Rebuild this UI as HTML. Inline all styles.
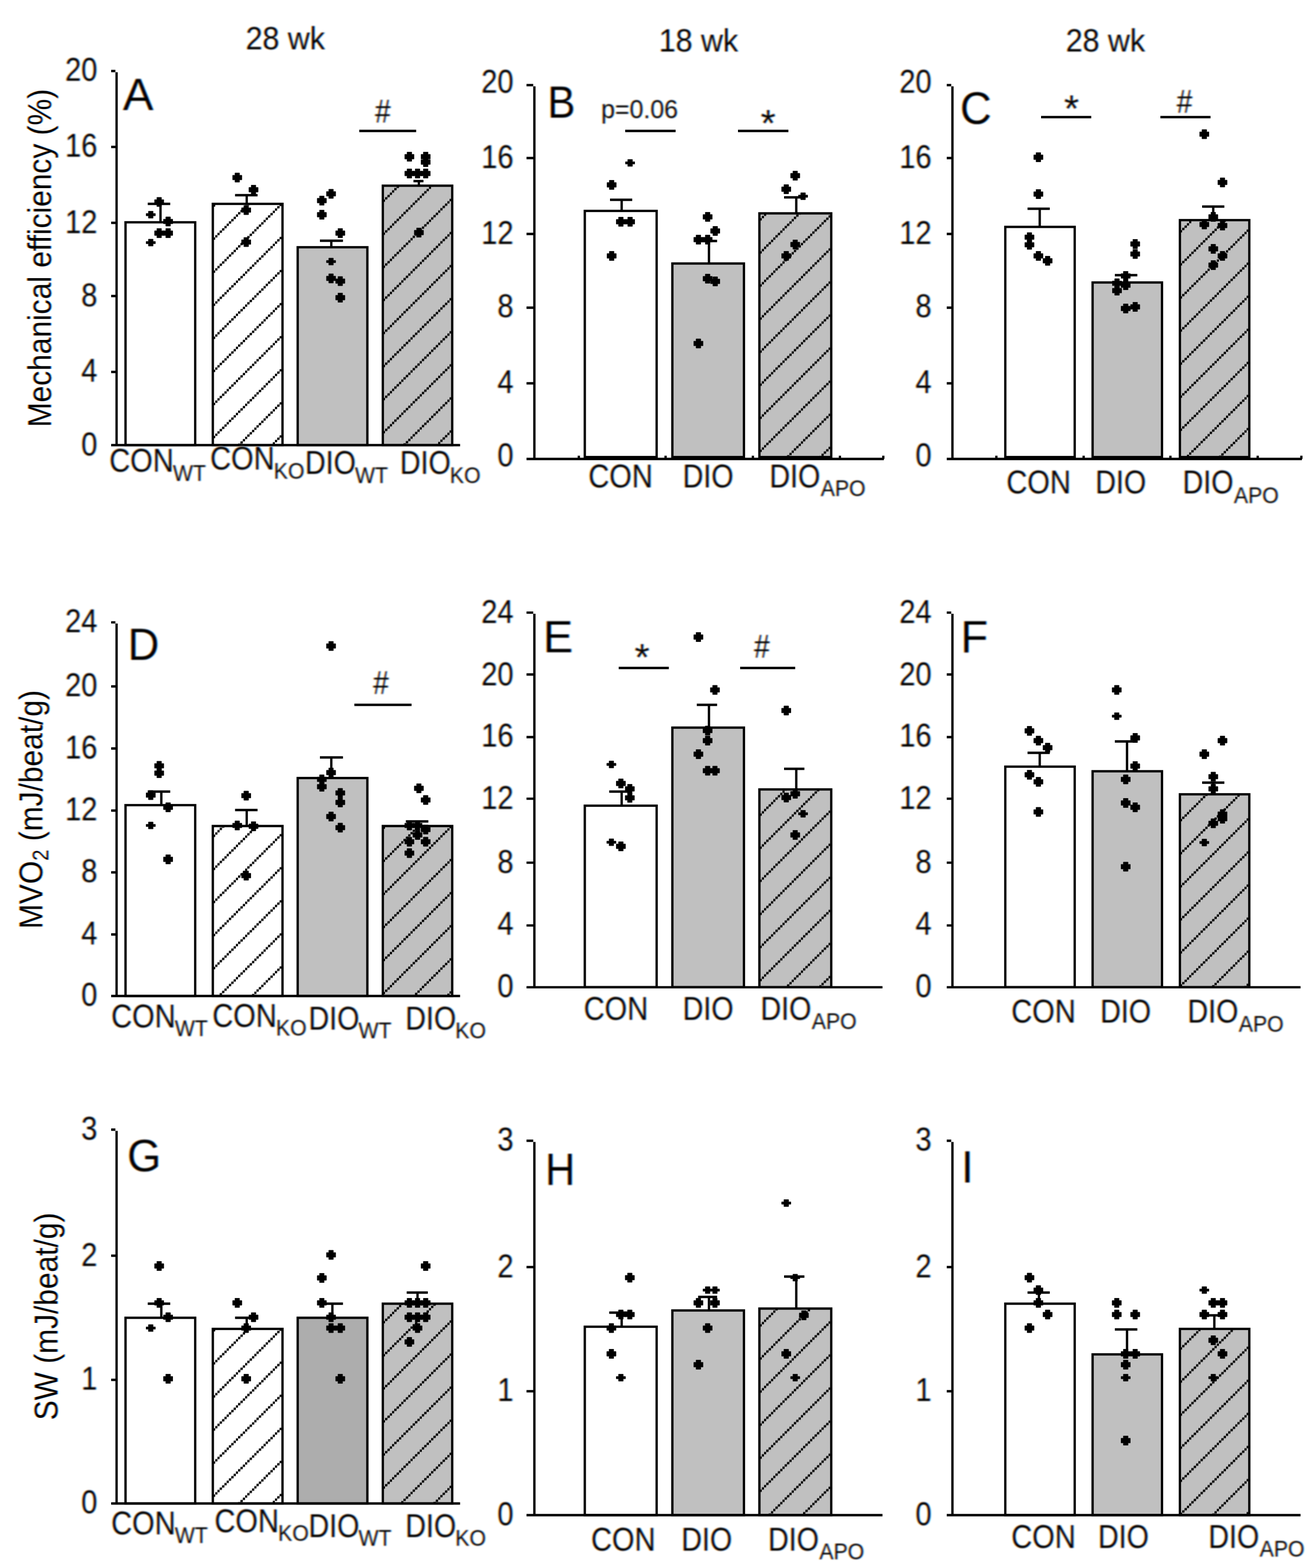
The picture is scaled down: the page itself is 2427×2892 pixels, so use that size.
<!DOCTYPE html>
<html lang="en">
<head>
<meta charset="utf-8">
<title>Mechanical efficiency, MVO2 and SW</title>
<style>
html,body{margin:0;padding:0;background:#fff;}
body{width:2427px;height:2892px;}
svg{display:block;}
.t text{font-family:"Liberation Sans",Arial,Helvetica,sans-serif;fill:#000;}
</style>
</head>
<body>
<svg width="2427" height="2892" viewBox="0 0 2427 2892">
<defs>
<filter id="lcd" x="-0.25" y="-0.25" width="1.5" height="1.5" color-interpolation-filters="sRGB">
<feGaussianBlur in="SourceAlpha" stdDeviation="1.5 0.90" result="a"/>
<feOffset in="a" dx="1.2" result="ar"/>
<feOffset in="a" dx="-1.2" result="ab"/>
<feFlood flood-color="#00ffff"/><feComposite operator="in" in2="ar" result="lr"/>
<feFlood flood-color="#ff00ff"/><feComposite operator="in" in2="a" result="lg"/>
<feFlood flood-color="#ffff00"/><feComposite operator="in" in2="ab" result="lb"/>
<feBlend mode="multiply" in="lr" in2="lg" result="rg"/>
<feBlend mode="multiply" in="rg" in2="lb"/>
</filter>
<filter id="lcdr" x="-0.25" y="-0.03" width="1.5" height="1.06" color-interpolation-filters="sRGB">
<feGaussianBlur in="SourceAlpha" stdDeviation="1.20 0.75" result="a"/>
<feOffset in="a" dx="1.2" result="ar"/>
<feOffset in="a" dx="-1.2" result="ab"/>
<feFlood flood-color="#00ffff"/><feComposite operator="in" in2="ar" result="lr"/>
<feFlood flood-color="#ff00ff"/><feComposite operator="in" in2="a" result="lg"/>
<feFlood flood-color="#ffff00"/><feComposite operator="in" in2="ab" result="lb"/>
<feBlend mode="multiply" in="lr" in2="lg" result="rg"/>
<feBlend mode="multiply" in="rg" in2="lb"/>
</filter>
</defs>
<rect width="2427" height="2892" fill="#fff"/>
<g id="plots">
<g id="panelA">
<g stroke="#000" stroke-width="4.3" fill="none">
<rect x="231.5" y="410" width="128.5" height="411" fill="#ffffff" stroke="none"/>
<rect x="231.5" y="410" width="128.5" height="411"/>
<rect x="392.5" y="376" width="128.5" height="445" fill="#ffffff" stroke="none"/>
<g stroke="none">
<pattern id="h1" patternUnits="userSpaceOnUse" width="4.243" height="61" patternTransform="translate(392.5 437.9) skewY(-45)"><path d="M0 0L4.243 4.243V8.486L0 4.243Z" fill="#000"/></pattern>
<rect x="392.5" y="376" width="128.5" height="445" fill="url(#h1)"/>
</g>
<rect x="392.5" y="376" width="128.5" height="445"/>
<rect x="549" y="456" width="128.5" height="365" fill="#c0c0c0" stroke="none"/>
<rect x="549" y="456" width="128.5" height="365"/>
<rect x="706" y="342.5" width="128" height="478.5" fill="#c0c0c0" stroke="none"/>
<g stroke="none">
<pattern id="h2" patternUnits="userSpaceOnUse" width="4.243" height="61" patternTransform="translate(706 428.9) skewY(-45)"><path d="M0 0L4.243 4.243V8.486L0 4.243Z" fill="#000"/></pattern>
<rect x="706" y="342.5" width="128" height="478.5" fill="url(#h2)"/>
</g>
<rect x="706" y="342.5" width="128" height="478.5"/>
<path d="M296 410V376M272.5 376H314M455 376V360M433.5 360H475M611 456V444M590 444H632.5M772.5 342.5V334M762.5 334H781M215 133.2V821M205 821H848.5M205 131H212.8M205 271H215M205 411H215M205 546H215M205 686H215M205 821H215M662.5 241.5H767.5"/>
</g>
<path d="M289.3 364h8.486v4.243h4.243v8.486h-4.243v4.243h-8.486v-4.243h-4.243v-8.486h4.243zM273.8 389.6h8.486v4.243h4.243v4.243h-4.243v4.243h-8.486v-4.243h-4.243v-4.243h4.243zM305.8 400h8.486v4.243h4.243v8.486h-4.243v4.243h-8.486v-4.243h-4.243v-8.486h4.243zM289.3 421.5h8.486v4.243h4.243v8.486h-4.243v4.243h-8.486v-4.243h-4.243v-8.486h4.243zM305.8 421.5h8.486v4.243h4.243v8.486h-4.243v4.243h-8.486v-4.243h-4.243v-8.486h4.243zM273.8 441.1h8.486v4.243h4.243v4.243h-4.243v4.243h-8.486v-4.243h-4.243v-4.243h4.243zM433.3 319h8.486v4.243h4.243v8.486h-4.243v4.243h-8.486v-4.243h-4.243v-8.486h4.243zM463.3 341.5h8.486v4.243h4.243v8.486h-4.243v4.243h-8.486v-4.243h-4.243v-8.486h4.243zM449.8 379h8.486v4.243h4.243v8.486h-4.243v4.243h-8.486v-4.243h-4.243v-8.486h4.243zM449.8 438h8.486v4.243h4.243v8.486h-4.243v4.243h-8.486v-4.243h-4.243v-8.486h4.243zM606.3 349h8.486v4.243h4.243v8.486h-4.243v4.243h-8.486v-4.243h-4.243v-8.486h4.243zM589.3 361.5h8.486v4.243h4.243v8.486h-4.243v4.243h-8.486v-4.243h-4.243v-8.486h4.243zM589.3 387.5h8.486v4.243h4.243v8.486h-4.243v4.243h-8.486v-4.243h-4.243v-8.486h4.243zM623.3 421.5h8.486v4.243h4.243v8.486h-4.243v4.243h-8.486v-4.243h-4.243v-8.486h4.243zM606.3 476.1h8.486v4.243h4.243v4.243h-4.243v4.243h-8.486v-4.243h-4.243v-4.243h4.243zM606.3 505h8.486v4.243h4.243v8.486h-4.243v4.243h-8.486v-4.243h-4.243v-8.486h4.243zM623.3 510h8.486v4.243h4.243v8.486h-4.243v4.243h-8.486v-4.243h-4.243v-8.486h4.243zM623.3 540.5h8.486v4.243h4.243v8.486h-4.243v4.243h-8.486v-4.243h-4.243v-8.486h4.243zM750.8 280.5h8.486v4.243h4.243v8.486h-4.243v4.243h-8.486v-4.243h-4.243v-8.486h4.243zM780.8 280.5h8.486v4.243h4.243v8.486h-4.243v4.243h-8.486v-4.243h-4.243v-8.486h4.243zM780.8 290.5h8.486v4.243h4.243v8.486h-4.243v4.243h-8.486v-4.243h-4.243v-8.486h4.243zM750.8 311.5h8.486v4.243h4.243v8.486h-4.243v4.243h-8.486v-4.243h-4.243v-8.486h4.243zM765.8 311.5h8.486v4.243h4.243v8.486h-4.243v4.243h-8.486v-4.243h-4.243v-8.486h4.243zM780.8 311.5h8.486v4.243h4.243v8.486h-4.243v4.243h-8.486v-4.243h-4.243v-8.486h4.243zM768.3 420.5h8.486v4.243h4.243v8.486h-4.243v4.243h-8.486v-4.243h-4.243v-8.486h4.243z" fill="#000" stroke="#000" stroke-width="0.8" stroke-linejoin="round"/>
</g>
<g id="panelB">
<g stroke="#000" stroke-width="4.3" fill="none">
<rect x="1078.5" y="389" width="132.5" height="454" fill="#ffffff" stroke="none"/>
<rect x="1078.5" y="389" width="132.5" height="454"/>
<rect x="1240" y="486" width="132" height="357" fill="#c0c0c0" stroke="none"/>
<rect x="1240" y="486" width="132" height="357"/>
<rect x="1400.5" y="393.5" width="132.5" height="449.5" fill="#c0c0c0" stroke="none"/>
<g stroke="none">
<pattern id="h3" patternUnits="userSpaceOnUse" width="4.243" height="61" patternTransform="translate(1400.5 463.4) skewY(-45)"><path d="M0 0L4.243 4.243V8.486L0 4.243Z" fill="#000"/></pattern>
<rect x="1400.5" y="393.5" width="132.5" height="449.5" fill="url(#h3)"/>
</g>
<rect x="1400.5" y="393.5" width="132.5" height="449.5"/>
<path d="M1146.5 389V368.5M1125 368.5H1166M1307.5 486V444.5M1287.5 444.5H1322.5M1468.5 393.5V364M1446 364H1485M985.5 159.2V846.5M971 846.5H1630M971 157H983.4M971 291.5H985.5M971 431.5H985.5M971 567.5H985.5M971 707H985.5M971 846.5H985.5M1067.5 846.5V840.5M1227.5 846.5V840.5M1388.5 846.5V840.5M1549 846.5V840.5M1629 846.5V840.5M1153 241.5H1246M1361 241.5H1454"/>
</g>
<path d="M1157.8 294.1h8.486v4.243h4.243v4.243h-4.243v4.243h-8.486v-4.243h-4.243v-4.243h4.243zM1123.8 332.5h8.486v4.243h4.243v8.486h-4.243v4.243h-8.486v-4.243h-4.243v-8.486h4.243zM1140.8 400.5h8.486v4.243h4.243v8.486h-4.243v4.243h-8.486v-4.243h-4.243v-8.486h4.243zM1157.8 400.5h8.486v4.243h4.243v8.486h-4.243v4.243h-8.486v-4.243h-4.243v-8.486h4.243zM1123.8 463.5h8.486v4.243h4.243v8.486h-4.243v4.243h-8.486v-4.243h-4.243v-8.486h4.243zM1300.8 391.5h8.486v4.243h4.243v8.486h-4.243v4.243h-8.486v-4.243h-4.243v-8.486h4.243zM1314.8 417.5h8.486v4.243h4.243v8.486h-4.243v4.243h-8.486v-4.243h-4.243v-8.486h4.243zM1283.8 433.5h8.486v4.243h4.243v8.486h-4.243v4.243h-8.486v-4.243h-4.243v-8.486h4.243zM1300.8 433.5h8.486v4.243h4.243v8.486h-4.243v4.243h-8.486v-4.243h-4.243v-8.486h4.243zM1300.8 505.5h8.486v4.243h4.243v8.486h-4.243v4.243h-8.486v-4.243h-4.243v-8.486h4.243zM1314.8 510.5h8.486v4.243h4.243v8.486h-4.243v4.243h-8.486v-4.243h-4.243v-8.486h4.243zM1283.8 625h8.486v4.243h4.243v8.486h-4.243v4.243h-8.486v-4.243h-4.243v-8.486h4.243zM1462.3 315.5h8.486v4.243h4.243v8.486h-4.243v4.243h-8.486v-4.243h-4.243v-8.486h4.243zM1445.8 340.5h8.486v4.243h4.243v8.486h-4.243v4.243h-8.486v-4.243h-4.243v-8.486h4.243zM1476.8 355.6h8.486v4.243h4.243v4.243h-4.243v4.243h-8.486v-4.243h-4.243v-4.243h4.243zM1462.3 442.5h8.486v4.243h4.243v8.486h-4.243v4.243h-8.486v-4.243h-4.243v-8.486h4.243zM1445.8 463.5h8.486v4.243h4.243v8.486h-4.243v4.243h-8.486v-4.243h-4.243v-8.486h4.243z" fill="#000" stroke="#000" stroke-width="0.8" stroke-linejoin="round"/>
</g>
<g id="panelC">
<g stroke="#000" stroke-width="4.3" fill="none">
<rect x="1854" y="418.5" width="128" height="424.5" fill="#ffffff" stroke="none"/>
<rect x="1854" y="418.5" width="128" height="424.5"/>
<rect x="2015" y="521" width="128" height="322" fill="#c0c0c0" stroke="none"/>
<rect x="2015" y="521" width="128" height="322"/>
<rect x="2176" y="406" width="128" height="437" fill="#c0c0c0" stroke="none"/>
<g stroke="none">
<pattern id="h4" patternUnits="userSpaceOnUse" width="4.243" height="61" patternTransform="translate(2176 485.4) skewY(-45)"><path d="M0 0L4.243 4.243V8.486L0 4.243Z" fill="#000"/></pattern>
<rect x="2176" y="406" width="128" height="437" fill="url(#h4)"/>
</g>
<rect x="2176" y="406" width="128" height="437"/>
<path d="M1917.5 418.5V385M1895 385H1936M2077 521V507.5M2056 507.5H2097.5M2237.5 406V381M2217 381H2258M1756.5 159.2V846.5M1746 846.5H2401M1746 157H1754.3M1746 291.5H1756.5M1746 431.5H1756.5M1746 567.5H1756.5M1746 707H1756.5M1746 846.5H1756.5M1837.5 846.5V840.5M1998.5 846.5V840.5M2158.5 846.5V840.5M2319.5 846.5V840.5M2400 846.5V840.5M1920 216H2012.5M2140 216H2232.5"/>
</g>
<path d="M1910.8 281.5h8.486v4.243h4.243v8.486h-4.243v4.243h-8.486v-4.243h-4.243v-8.486h4.243zM1910.8 349.5h8.486v4.243h4.243v8.486h-4.243v4.243h-8.486v-4.243h-4.243v-8.486h4.243zM1894.3 429h8.486v4.243h4.243v8.486h-4.243v4.243h-8.486v-4.243h-4.243v-8.486h4.243zM1894.3 443h8.486v4.243h4.243v8.486h-4.243v4.243h-8.486v-4.243h-4.243v-8.486h4.243zM1910.8 463.5h8.486v4.243h4.243v8.486h-4.243v4.243h-8.486v-4.243h-4.243v-8.486h4.243zM1927.8 472.5h8.486v4.243h4.243v8.486h-4.243v4.243h-8.486v-4.243h-4.243v-8.486h4.243zM2089.3 441.5h8.486v4.243h4.243v8.486h-4.243v4.243h-8.486v-4.243h-4.243v-8.486h4.243zM2089.3 460h8.486v4.243h4.243v8.486h-4.243v4.243h-8.486v-4.243h-4.243v-8.486h4.243zM2071.8 500.5h8.486v4.243h4.243v8.486h-4.243v4.243h-8.486v-4.243h-4.243v-8.486h4.243zM2055.8 514h8.486v4.243h4.243v8.486h-4.243v4.243h-8.486v-4.243h-4.243v-8.486h4.243zM2071.8 517.5h8.486v4.243h4.243v8.486h-4.243v4.243h-8.486v-4.243h-4.243v-8.486h4.243zM2055.8 527.5h8.486v4.243h4.243v8.486h-4.243v4.243h-8.486v-4.243h-4.243v-8.486h4.243zM2071.8 560.5h8.486v4.243h4.243v8.486h-4.243v4.243h-8.486v-4.243h-4.243v-8.486h4.243zM2089.3 557.5h8.486v4.243h4.243v8.486h-4.243v4.243h-8.486v-4.243h-4.243v-8.486h4.243zM2216.8 239h8.486v4.243h4.243v8.486h-4.243v4.243h-8.486v-4.243h-4.243v-8.486h4.243zM2250.3 328h8.486v4.243h4.243v8.486h-4.243v4.243h-8.486v-4.243h-4.243v-8.486h4.243zM2233.3 391.5h8.486v4.243h4.243v8.486h-4.243v4.243h-8.486v-4.243h-4.243v-8.486h4.243zM2216.8 405.5h8.486v4.243h4.243v8.486h-4.243v4.243h-8.486v-4.243h-4.243v-8.486h4.243zM2250.3 407.5h8.486v4.243h4.243v8.486h-4.243v4.243h-8.486v-4.243h-4.243v-8.486h4.243zM2233.3 450.5h8.486v4.243h4.243v8.486h-4.243v4.243h-8.486v-4.243h-4.243v-8.486h4.243zM2250.3 463.5h8.486v4.243h4.243v8.486h-4.243v4.243h-8.486v-4.243h-4.243v-8.486h4.243zM2233.3 480.5h8.486v4.243h4.243v8.486h-4.243v4.243h-8.486v-4.243h-4.243v-8.486h4.243z" fill="#000" stroke="#000" stroke-width="0.8" stroke-linejoin="round"/>
</g>
<g id="panelD">
<g stroke="#000" stroke-width="4.3" fill="none">
<rect x="231.5" y="1485" width="128.5" height="352" fill="#ffffff" stroke="none"/>
<rect x="231.5" y="1485" width="128.5" height="352"/>
<rect x="392.5" y="1523.5" width="128.5" height="313.5" fill="#ffffff" stroke="none"/>
<g stroke="none">
<pattern id="h5" patternUnits="userSpaceOnUse" width="4.243" height="61" patternTransform="translate(392.5 1600.4) skewY(-45)"><path d="M0 0L4.243 4.243V8.486L0 4.243Z" fill="#000"/></pattern>
<rect x="392.5" y="1523.5" width="128.5" height="313.5" fill="url(#h5)"/>
</g>
<rect x="392.5" y="1523.5" width="128.5" height="313.5"/>
<rect x="549" y="1435" width="128.5" height="402" fill="#c0c0c0" stroke="none"/>
<rect x="549" y="1435" width="128.5" height="402"/>
<rect x="706" y="1523.5" width="128" height="313.5" fill="#c0c0c0" stroke="none"/>
<g stroke="none">
<pattern id="h6" patternUnits="userSpaceOnUse" width="4.243" height="61" patternTransform="translate(706 1585.4) skewY(-45)"><path d="M0 0L4.243 4.243V8.486L0 4.243Z" fill="#000"/></pattern>
<rect x="706" y="1523.5" width="128" height="313.5" fill="url(#h6)"/>
</g>
<rect x="706" y="1523.5" width="128" height="313.5"/>
<path d="M297.5 1485V1460M272.5 1460H314M455 1523.5V1494M433.5 1494H475M611 1435V1397M590 1397H632.5M770 1523.5V1515M748.5 1515H790M215 1149.9V1837M205 1837H848.5M205 1147.8H212.8M205 1266H215M205 1380.5H215M205 1495H215M205 1609H215M205 1723.5H215M205 1837H215M653.5 1300H759"/>
</g>
<path d="M289.3 1404h8.486v4.243h4.243v8.486h-4.243v4.243h-8.486v-4.243h-4.243v-8.486h4.243zM289.3 1417.5h8.486v4.243h4.243v8.486h-4.243v4.243h-8.486v-4.243h-4.243v-8.486h4.243zM273.8 1458h8.486v4.243h4.243v8.486h-4.243v4.243h-8.486v-4.243h-4.243v-8.486h4.243zM305.8 1480.5h8.486v4.243h4.243v8.486h-4.243v4.243h-8.486v-4.243h-4.243v-8.486h4.243zM273.8 1516.1h8.486v4.243h4.243v4.243h-4.243v4.243h-8.486v-4.243h-4.243v-4.243h4.243zM305.8 1576.5h8.486v4.243h4.243v8.486h-4.243v4.243h-8.486v-4.243h-4.243v-8.486h4.243zM449.8 1459h8.486v4.243h4.243v8.486h-4.243v4.243h-8.486v-4.243h-4.243v-8.486h4.243zM433.3 1514h8.486v4.243h4.243v8.486h-4.243v4.243h-8.486v-4.243h-4.243v-8.486h4.243zM463.3 1515.5h8.486v4.243h4.243v8.486h-4.243v4.243h-8.486v-4.243h-4.243v-8.486h4.243zM449.8 1606.5h8.486v4.243h4.243v8.486h-4.243v4.243h-8.486v-4.243h-4.243v-8.486h4.243zM606.3 1183h8.486v4.243h4.243v8.486h-4.243v4.243h-8.486v-4.243h-4.243v-8.486h4.243zM606.3 1416.5h8.486v4.243h4.243v8.486h-4.243v4.243h-8.486v-4.243h-4.243v-8.486h4.243zM589.3 1429h8.486v4.243h4.243v8.486h-4.243v4.243h-8.486v-4.243h-4.243v-8.486h4.243zM589.3 1442.5h8.486v4.243h4.243v8.486h-4.243v4.243h-8.486v-4.243h-4.243v-8.486h4.243zM623.3 1454h8.486v4.243h4.243v8.486h-4.243v4.243h-8.486v-4.243h-4.243v-8.486h4.243zM623.3 1471.5h8.486v4.243h4.243v8.486h-4.243v4.243h-8.486v-4.243h-4.243v-8.486h4.243zM606.3 1497.5h8.486v4.243h4.243v8.486h-4.243v4.243h-8.486v-4.243h-4.243v-8.486h4.243zM623.3 1518h8.486v4.243h4.243v8.486h-4.243v4.243h-8.486v-4.243h-4.243v-8.486h4.243zM768.3 1445.5h8.486v4.243h4.243v8.486h-4.243v4.243h-8.486v-4.243h-4.243v-8.486h4.243zM780.8 1467h8.486v4.243h4.243v8.486h-4.243v4.243h-8.486v-4.243h-4.243v-8.486h4.243zM750.8 1514h8.486v4.243h4.243v8.486h-4.243v4.243h-8.486v-4.243h-4.243v-8.486h4.243zM765.8 1514h8.486v4.243h4.243v8.486h-4.243v4.243h-8.486v-4.243h-4.243v-8.486h4.243zM780.8 1521.5h8.486v4.243h4.243v8.486h-4.243v4.243h-8.486v-4.243h-4.243v-8.486h4.243zM765.8 1531.5h8.486v4.243h4.243v8.486h-4.243v4.243h-8.486v-4.243h-4.243v-8.486h4.243zM750.8 1544h8.486v4.243h4.243v8.486h-4.243v4.243h-8.486v-4.243h-4.243v-8.486h4.243zM780.8 1544h8.486v4.243h4.243v8.486h-4.243v4.243h-8.486v-4.243h-4.243v-8.486h4.243zM750.8 1565h8.486v4.243h4.243v8.486h-4.243v4.243h-8.486v-4.243h-4.243v-8.486h4.243z" fill="#000" stroke="#000" stroke-width="0.8" stroke-linejoin="round"/>
</g>
<g id="panelE">
<g stroke="#000" stroke-width="4.3" fill="none">
<rect x="1078.5" y="1486" width="132.5" height="334.8" fill="#ffffff" stroke="none"/>
<rect x="1078.5" y="1486" width="132.5" height="334.8"/>
<rect x="1240" y="1342" width="132" height="478.8" fill="#c0c0c0" stroke="none"/>
<rect x="1240" y="1342" width="132" height="478.8"/>
<rect x="1400.5" y="1456" width="132.5" height="364.8" fill="#c0c0c0" stroke="none"/>
<g stroke="none">
<pattern id="h7" patternUnits="userSpaceOnUse" width="4.243" height="61" patternTransform="translate(1400.5 1500.4) skewY(-45)"><path d="M0 0L4.243 4.243V8.486L0 4.243Z" fill="#000"/></pattern>
<rect x="1400.5" y="1456" width="132.5" height="364.8" fill="url(#h7)"/>
</g>
<rect x="1400.5" y="1456" width="132.5" height="364.8"/>
<path d="M1146.5 1486V1460M1123.5 1460H1165M1307.5 1342V1300M1285 1300H1322.5M1468.5 1456V1418M1446 1418H1483.5M985.5 1131.9V1820.8M971 1820.8H1627.5M971 1129.8H983.4M971 1244H985.5M971 1359.5H985.5M971 1473.2H985.5M971 1591.2H985.5M971 1706.8H985.5M971 1820.8H985.5M1141 1232H1233.5M1365 1232H1466.5"/>
</g>
<path d="M1123.3 1403.6h8.486v4.243h4.243v4.243h-4.243v4.243h-8.486v-4.243h-4.243v-4.243h4.243zM1140.8 1436.5h8.486v4.243h4.243v8.486h-4.243v4.243h-8.486v-4.243h-4.243v-8.486h4.243zM1157.3 1446.5h8.486v4.243h4.243v8.486h-4.243v4.243h-8.486v-4.243h-4.243v-8.486h4.243zM1157.3 1463h8.486v4.243h4.243v8.486h-4.243v4.243h-8.486v-4.243h-4.243v-8.486h4.243zM1123.3 1547.1h8.486v4.243h4.243v4.243h-4.243v4.243h-8.486v-4.243h-4.243v-4.243h4.243zM1140.8 1552.5h8.486v4.243h4.243v8.486h-4.243v4.243h-8.486v-4.243h-4.243v-8.486h4.243zM1283.8 1166.5h8.486v4.243h4.243v8.486h-4.243v4.243h-8.486v-4.243h-4.243v-8.486h4.243zM1314.3 1264h8.486v4.243h4.243v8.486h-4.243v4.243h-8.486v-4.243h-4.243v-8.486h4.243zM1300.8 1339h8.486v4.243h4.243v8.486h-4.243v4.243h-8.486v-4.243h-4.243v-8.486h4.243zM1300.8 1357.5h8.486v4.243h4.243v8.486h-4.243v4.243h-8.486v-4.243h-4.243v-8.486h4.243zM1283.8 1382.5h8.486v4.243h4.243v8.486h-4.243v4.243h-8.486v-4.243h-4.243v-8.486h4.243zM1300.8 1413h8.486v4.243h4.243v8.486h-4.243v4.243h-8.486v-4.243h-4.243v-8.486h4.243zM1314.3 1413h8.486v4.243h4.243v8.486h-4.243v4.243h-8.486v-4.243h-4.243v-8.486h4.243zM1445.8 1302h8.486v4.243h4.243v8.486h-4.243v4.243h-8.486v-4.243h-4.243v-8.486h4.243zM1462.3 1455.5h8.486v4.243h4.243v8.486h-4.243v4.243h-8.486v-4.243h-4.243v-8.486h4.243zM1445.8 1462.5h8.486v4.243h4.243v8.486h-4.243v4.243h-8.486v-4.243h-4.243v-8.486h4.243zM1476.8 1494.6h8.486v4.243h4.243v4.243h-4.243v4.243h-8.486v-4.243h-4.243v-4.243h4.243zM1462.3 1531.5h8.486v4.243h4.243v8.486h-4.243v4.243h-8.486v-4.243h-4.243v-8.486h4.243z" fill="#000" stroke="#000" stroke-width="0.8" stroke-linejoin="round"/>
</g>
<g id="panelF">
<g stroke="#000" stroke-width="4.3" fill="none">
<rect x="1854" y="1414" width="128" height="406.8" fill="#ffffff" stroke="none"/>
<rect x="1854" y="1414" width="128" height="406.8"/>
<rect x="2015" y="1422.5" width="128" height="398.2" fill="#c0c0c0" stroke="none"/>
<rect x="2015" y="1422.5" width="128" height="398.2"/>
<rect x="2176" y="1465" width="128" height="355.8" fill="#c0c0c0" stroke="none"/>
<g stroke="none">
<pattern id="h8" patternUnits="userSpaceOnUse" width="4.243" height="61" patternTransform="translate(2176 1510.4) skewY(-45)"><path d="M0 0L4.243 4.243V8.486L0 4.243Z" fill="#000"/></pattern>
<rect x="2176" y="1465" width="128" height="355.8" fill="url(#h8)"/>
</g>
<rect x="2176" y="1465" width="128" height="355.8"/>
<path d="M1917.5 1414V1388.5M1895 1388.5H1936M2078.5 1422.5V1367.5M2056 1367.5H2097.5M2237.5 1465V1443.5M2217 1443.5H2258M1756.5 1131.9V1820.8M1746 1820.8H2398.5M1746 1129.8H1754.3M1746 1244H1756.5M1746 1359.5H1756.5M1746 1473.2H1756.5M1746 1591.2H1756.5M1746 1706.8H1756.5M1746 1820.8H1756.5"/>
</g>
<path d="M1894.3 1339.5h8.486v4.243h4.243v8.486h-4.243v4.243h-8.486v-4.243h-4.243v-8.486h4.243zM1910.8 1357.5h8.486v4.243h4.243v8.486h-4.243v4.243h-8.486v-4.243h-4.243v-8.486h4.243zM1927.8 1370.5h8.486v4.243h4.243v8.486h-4.243v4.243h-8.486v-4.243h-4.243v-8.486h4.243zM1894.3 1420.5h8.486v4.243h4.243v8.486h-4.243v4.243h-8.486v-4.243h-4.243v-8.486h4.243zM1910.8 1433.5h8.486v4.243h4.243v8.486h-4.243v4.243h-8.486v-4.243h-4.243v-8.486h4.243zM1910.8 1489h8.486v4.243h4.243v8.486h-4.243v4.243h-8.486v-4.243h-4.243v-8.486h4.243zM2055.3 1264h8.486v4.243h4.243v8.486h-4.243v4.243h-8.486v-4.243h-4.243v-8.486h4.243zM2055.3 1314.6h8.486v4.243h4.243v4.243h-4.243v4.243h-8.486v-4.243h-4.243v-4.243h4.243zM2089.3 1352.5h8.486v4.243h4.243v8.486h-4.243v4.243h-8.486v-4.243h-4.243v-8.486h4.243zM2089.3 1404.5h8.486v4.243h4.243v8.486h-4.243v4.243h-8.486v-4.243h-4.243v-8.486h4.243zM2071.8 1429h8.486v4.243h4.243v8.486h-4.243v4.243h-8.486v-4.243h-4.243v-8.486h4.243zM2071.8 1472.5h8.486v4.243h4.243v8.486h-4.243v4.243h-8.486v-4.243h-4.243v-8.486h4.243zM2089.3 1480.5h8.486v4.243h4.243v8.486h-4.243v4.243h-8.486v-4.243h-4.243v-8.486h4.243zM2071.8 1590h8.486v4.243h4.243v8.486h-4.243v4.243h-8.486v-4.243h-4.243v-8.486h4.243zM2250.3 1357.5h8.486v4.243h4.243v8.486h-4.243v4.243h-8.486v-4.243h-4.243v-8.486h4.243zM2216.8 1382.5h8.486v4.243h4.243v8.486h-4.243v4.243h-8.486v-4.243h-4.243v-8.486h4.243zM2233.3 1424h8.486v4.243h4.243v8.486h-4.243v4.243h-8.486v-4.243h-4.243v-8.486h4.243zM2233.3 1446.5h8.486v4.243h4.243v8.486h-4.243v4.243h-8.486v-4.243h-4.243v-8.486h4.243zM2250.3 1493h8.486v4.243h4.243v8.486h-4.243v4.243h-8.486v-4.243h-4.243v-8.486h4.243zM2250.3 1501.5h8.486v4.243h4.243v8.486h-4.243v4.243h-8.486v-4.243h-4.243v-8.486h4.243zM2233.3 1510h8.486v4.243h4.243v8.486h-4.243v4.243h-8.486v-4.243h-4.243v-8.486h4.243zM2216.8 1547.6h8.486v4.243h4.243v4.243h-4.243v4.243h-8.486v-4.243h-4.243v-4.243h4.243z" fill="#000" stroke="#000" stroke-width="0.8" stroke-linejoin="round"/>
</g>
<g id="panelG">
<g stroke="#000" stroke-width="4.3" fill="none">
<rect x="231.5" y="2430.5" width="128.5" height="342.5" fill="#ffffff" stroke="none"/>
<rect x="231.5" y="2430.5" width="128.5" height="342.5"/>
<rect x="392.5" y="2451" width="128.5" height="322" fill="#ffffff" stroke="none"/>
<g stroke="none">
<pattern id="h9" patternUnits="userSpaceOnUse" width="4.243" height="61" patternTransform="translate(392.5 2512.4) skewY(-45)"><path d="M0 0L4.243 4.243V8.486L0 4.243Z" fill="#000"/></pattern>
<rect x="392.5" y="2451" width="128.5" height="322" fill="url(#h9)"/>
</g>
<rect x="392.5" y="2451" width="128.5" height="322"/>
<rect x="549" y="2430.5" width="128.5" height="342.5" fill="#adadad" stroke="none"/>
<rect x="549" y="2430.5" width="128.5" height="342.5"/>
<rect x="706" y="2404.5" width="128" height="368.5" fill="#c0c0c0" stroke="none"/>
<g stroke="none">
<pattern id="h10" patternUnits="userSpaceOnUse" width="4.243" height="61" patternTransform="translate(706 2497.4) skewY(-45)"><path d="M0 0L4.243 4.243V8.486L0 4.243Z" fill="#000"/></pattern>
<rect x="706" y="2404.5" width="128" height="368.5" fill="url(#h10)"/>
</g>
<rect x="706" y="2404.5" width="128" height="368.5"/>
<path d="M297.5 2430.5V2404.5M272.5 2404.5H314M455 2451V2430.5M433.5 2430.5H475M613 2430.5V2404.5M590 2404.5H632.5M770 2404.5V2384M750 2384H789M215 2085.7V2773M205 2773H848.5M205 2083.5H212.8M205 2316H215M205 2545H215M205 2773H215"/>
</g>
<path d="M289.3 2326.5h8.486v4.243h4.243v8.486h-4.243v4.243h-8.486v-4.243h-4.243v-8.486h4.243zM289.3 2394.5h8.486v4.243h4.243v8.486h-4.243v4.243h-8.486v-4.243h-4.243v-8.486h4.243zM305.8 2421h8.486v4.243h4.243v8.486h-4.243v4.243h-8.486v-4.243h-4.243v-8.486h4.243zM273.8 2443.1h8.486v4.243h4.243v4.243h-4.243v4.243h-8.486v-4.243h-4.243v-4.243h4.243zM305.8 2534.5h8.486v4.243h4.243v8.486h-4.243v4.243h-8.486v-4.243h-4.243v-8.486h4.243zM433.3 2394.5h8.486v4.243h4.243v8.486h-4.243v4.243h-8.486v-4.243h-4.243v-8.486h4.243zM463.3 2421h8.486v4.243h4.243v8.486h-4.243v4.243h-8.486v-4.243h-4.243v-8.486h4.243zM449.8 2441h8.486v4.243h4.243v8.486h-4.243v4.243h-8.486v-4.243h-4.243v-8.486h4.243zM449.8 2534.5h8.486v4.243h4.243v8.486h-4.243v4.243h-8.486v-4.243h-4.243v-8.486h4.243zM606.3 2306h8.486v4.243h4.243v8.486h-4.243v4.243h-8.486v-4.243h-4.243v-8.486h4.243zM589.3 2348.5h8.486v4.243h4.243v8.486h-4.243v4.243h-8.486v-4.243h-4.243v-8.486h4.243zM589.3 2394.5h8.486v4.243h4.243v8.486h-4.243v4.243h-8.486v-4.243h-4.243v-8.486h4.243zM606.3 2421h8.486v4.243h4.243v8.486h-4.243v4.243h-8.486v-4.243h-4.243v-8.486h4.243zM606.3 2441h8.486v4.243h4.243v8.486h-4.243v4.243h-8.486v-4.243h-4.243v-8.486h4.243zM623.3 2441h8.486v4.243h4.243v8.486h-4.243v4.243h-8.486v-4.243h-4.243v-8.486h4.243zM623.3 2534.5h8.486v4.243h4.243v8.486h-4.243v4.243h-8.486v-4.243h-4.243v-8.486h4.243zM780.8 2326.5h8.486v4.243h4.243v8.486h-4.243v4.243h-8.486v-4.243h-4.243v-8.486h4.243zM750.8 2394.5h8.486v4.243h4.243v8.486h-4.243v4.243h-8.486v-4.243h-4.243v-8.486h4.243zM765.8 2394.5h8.486v4.243h4.243v8.486h-4.243v4.243h-8.486v-4.243h-4.243v-8.486h4.243zM780.8 2394.5h8.486v4.243h4.243v8.486h-4.243v4.243h-8.486v-4.243h-4.243v-8.486h4.243zM750.8 2421h8.486v4.243h4.243v8.486h-4.243v4.243h-8.486v-4.243h-4.243v-8.486h4.243zM765.8 2421h8.486v4.243h4.243v8.486h-4.243v4.243h-8.486v-4.243h-4.243v-8.486h4.243zM780.8 2421h8.486v4.243h4.243v8.486h-4.243v4.243h-8.486v-4.243h-4.243v-8.486h4.243zM765.8 2441h8.486v4.243h4.243v8.486h-4.243v4.243h-8.486v-4.243h-4.243v-8.486h4.243zM750.8 2466.5h8.486v4.243h4.243v8.486h-4.243v4.243h-8.486v-4.243h-4.243v-8.486h4.243z" fill="#000" stroke="#000" stroke-width="0.8" stroke-linejoin="round"/>
</g>
<g id="panelH">
<g stroke="#000" stroke-width="4.3" fill="none">
<rect x="1078.5" y="2447" width="132.5" height="347.5" fill="#ffffff" stroke="none"/>
<rect x="1078.5" y="2447" width="132.5" height="347.5"/>
<rect x="1240" y="2417" width="132" height="377.5" fill="#c0c0c0" stroke="none"/>
<rect x="1240" y="2417" width="132" height="377.5"/>
<rect x="1400.5" y="2413.5" width="132.5" height="381" fill="#c0c0c0" stroke="none"/>
<g stroke="none">
<pattern id="h11" patternUnits="userSpaceOnUse" width="4.243" height="61" patternTransform="translate(1400.5 2442.4) skewY(-45)"><path d="M0 0L4.243 4.243V8.486L0 4.243Z" fill="#000"/></pattern>
<rect x="1400.5" y="2413.5" width="132.5" height="381" fill="url(#h11)"/>
</g>
<rect x="1400.5" y="2413.5" width="132.5" height="381"/>
<path d="M1146.5 2447V2421M1123.5 2421H1165M1307.5 2417V2392M1287.5 2392H1322.5M1468.5 2413.5V2354.5M1446 2354.5H1483.5M985.5 2106.2V2794.5M971 2794.5H1627.5M971 2104H983.4M971 2337H985.5M971 2566H985.5M971 2794.5H985.5"/>
</g>
<path d="M1157.3 2348h8.486v4.243h4.243v8.486h-4.243v4.243h-8.486v-4.243h-4.243v-8.486h4.243zM1140.8 2416h8.486v4.243h4.243v8.486h-4.243v4.243h-8.486v-4.243h-4.243v-8.486h4.243zM1157.3 2416h8.486v4.243h4.243v8.486h-4.243v4.243h-8.486v-4.243h-4.243v-8.486h4.243zM1123.3 2441h8.486v4.243h4.243v8.486h-4.243v4.243h-8.486v-4.243h-4.243v-8.486h4.243zM1123.3 2488.5h8.486v4.243h4.243v8.486h-4.243v4.243h-8.486v-4.243h-4.243v-8.486h4.243zM1140.8 2534.6h8.486v4.243h4.243v4.243h-4.243v4.243h-8.486v-4.243h-4.243v-4.243h4.243zM1300.8 2373.1h8.486v4.243h4.243v4.243h-4.243v4.243h-8.486v-4.243h-4.243v-4.243h4.243zM1314.3 2373.1h8.486v4.243h4.243v4.243h-4.243v4.243h-8.486v-4.243h-4.243v-4.243h4.243zM1283.8 2394.5h8.486v4.243h4.243v8.486h-4.243v4.243h-8.486v-4.243h-4.243v-8.486h4.243zM1314.3 2394.5h8.486v4.243h4.243v8.486h-4.243v4.243h-8.486v-4.243h-4.243v-8.486h4.243zM1300.8 2441h8.486v4.243h4.243v8.486h-4.243v4.243h-8.486v-4.243h-4.243v-8.486h4.243zM1283.8 2508.5h8.486v4.243h4.243v8.486h-4.243v4.243h-8.486v-4.243h-4.243v-8.486h4.243zM1445.8 2212.6h8.486v4.243h4.243v4.243h-4.243v4.243h-8.486v-4.243h-4.243v-4.243h4.243zM1462.3 2350.1h8.486v4.243h4.243v4.243h-4.243v4.243h-8.486v-4.243h-4.243v-4.243h4.243zM1478.3 2417.5h8.486v4.243h4.243v8.486h-4.243v4.243h-8.486v-4.243h-4.243v-8.486h4.243zM1445.8 2488.5h8.486v4.243h4.243v8.486h-4.243v4.243h-8.486v-4.243h-4.243v-8.486h4.243zM1462.3 2534.6h8.486v4.243h4.243v4.243h-4.243v4.243h-8.486v-4.243h-4.243v-4.243h4.243z" fill="#000" stroke="#000" stroke-width="0.8" stroke-linejoin="round"/>
</g>
<g id="panelI">
<g stroke="#000" stroke-width="4.3" fill="none">
<rect x="1854" y="2404.5" width="128" height="390" fill="#ffffff" stroke="none"/>
<rect x="1854" y="2404.5" width="128" height="390"/>
<rect x="2015" y="2498" width="128" height="296.5" fill="#c0c0c0" stroke="none"/>
<rect x="2015" y="2498" width="128" height="296.5"/>
<rect x="2176" y="2451" width="128" height="343.5" fill="#c0c0c0" stroke="none"/>
<g stroke="none">
<pattern id="h12" patternUnits="userSpaceOnUse" width="4.243" height="61" patternTransform="translate(2176 2484.9) skewY(-45)"><path d="M0 0L4.243 4.243V8.486L0 4.243Z" fill="#000"/></pattern>
<rect x="2176" y="2451" width="128" height="343.5" fill="url(#h12)"/>
</g>
<rect x="2176" y="2451" width="128" height="343.5"/>
<path d="M1916 2404.5V2384M1895 2384H1936M2078.5 2498V2452M2056 2452H2097.5M2239.5 2451V2426M2218.5 2426H2259.5M1756.5 2106.2V2794.5M1746 2794.5H2398.5M1746 2104H1754.3M1746 2337H1756.5M1746 2566H1756.5M1746 2794.5H1756.5"/>
</g>
<path d="M1894.3 2348h8.486v4.243h4.243v8.486h-4.243v4.243h-8.486v-4.243h-4.243v-8.486h4.243zM1910.8 2371h8.486v4.243h4.243v8.486h-4.243v4.243h-8.486v-4.243h-4.243v-8.486h4.243zM1910.8 2394.5h8.486v4.243h4.243v8.486h-4.243v4.243h-8.486v-4.243h-4.243v-8.486h4.243zM1927.8 2416h8.486v4.243h4.243v8.486h-4.243v4.243h-8.486v-4.243h-4.243v-8.486h4.243zM1894.3 2441h8.486v4.243h4.243v8.486h-4.243v4.243h-8.486v-4.243h-4.243v-8.486h4.243zM2055.3 2394.5h8.486v4.243h4.243v8.486h-4.243v4.243h-8.486v-4.243h-4.243v-8.486h4.243zM2055.3 2416h8.486v4.243h4.243v8.486h-4.243v4.243h-8.486v-4.243h-4.243v-8.486h4.243zM2089.3 2416h8.486v4.243h4.243v8.486h-4.243v4.243h-8.486v-4.243h-4.243v-8.486h4.243zM2071.8 2488.5h8.486v4.243h4.243v8.486h-4.243v4.243h-8.486v-4.243h-4.243v-8.486h4.243zM2089.3 2488.5h8.486v4.243h4.243v8.486h-4.243v4.243h-8.486v-4.243h-4.243v-8.486h4.243zM2071.8 2508.5h8.486v4.243h4.243v8.486h-4.243v4.243h-8.486v-4.243h-4.243v-8.486h4.243zM2071.8 2534.6h8.486v4.243h4.243v4.243h-4.243v4.243h-8.486v-4.243h-4.243v-4.243h4.243zM2071.8 2648.5h8.486v4.243h4.243v8.486h-4.243v4.243h-8.486v-4.243h-4.243v-8.486h4.243zM2216.8 2373.1h8.486v4.243h4.243v4.243h-4.243v4.243h-8.486v-4.243h-4.243v-4.243h4.243zM2233.3 2394.5h8.486v4.243h4.243v8.486h-4.243v4.243h-8.486v-4.243h-4.243v-8.486h4.243zM2250.3 2394.5h8.486v4.243h4.243v8.486h-4.243v4.243h-8.486v-4.243h-4.243v-8.486h4.243zM2216.8 2416h8.486v4.243h4.243v8.486h-4.243v4.243h-8.486v-4.243h-4.243v-8.486h4.243zM2250.3 2416h8.486v4.243h4.243v8.486h-4.243v4.243h-8.486v-4.243h-4.243v-8.486h4.243zM2233.3 2463.5h8.486v4.243h4.243v8.486h-4.243v4.243h-8.486v-4.243h-4.243v-8.486h4.243zM2250.3 2488.5h8.486v4.243h4.243v8.486h-4.243v4.243h-8.486v-4.243h-4.243v-8.486h4.243zM2233.3 2534.6h8.486v4.243h4.243v4.243h-4.243v4.243h-8.486v-4.243h-4.243v-4.243h4.243z" fill="#000" stroke="#000" stroke-width="0.8" stroke-linejoin="round"/>
</g>
</g>
<g class="t" id="labels">
<g filter="url(#lcd)"><text transform="translate(179.5 149) scale(0.955 1.08)" font-size="56" text-anchor="end">20</text></g>
<g filter="url(#lcd)"><text transform="translate(179.5 289) scale(0.955 1.08)" font-size="56" text-anchor="end">16</text></g>
<g filter="url(#lcd)"><text transform="translate(179.5 429.5) scale(0.955 1.08)" font-size="56" text-anchor="end">12</text></g>
<g filter="url(#lcd)"><text transform="translate(179.5 564.8) scale(0.955 1.08)" font-size="56" text-anchor="end">8</text></g>
<g filter="url(#lcd)"><text transform="translate(179.5 704.2) scale(0.955 1.08)" font-size="56" text-anchor="end">4</text></g>
<g filter="url(#lcd)"><text transform="translate(179.5 839.8) scale(0.955 1.08)" font-size="56" text-anchor="end">0</text></g>
<g filter="url(#lcd)"><text transform="translate(706 226) scale(0.93 1.1)" font-size="56" text-anchor="middle">#</text></g>
<g filter="url(#lcd)"><text transform="translate(226.5 203) scale(1.02 1)" font-size="83">A</text></g>
<g filter="url(#lcd)"><text transform="translate(201.5 869.5) scale(0.955 1.08)" font-size="56">CON</text></g>
<g filter="url(#lcd)"><text transform="translate(318.8 886.5) scale(0.98 1.08)" font-size="40">WT</text></g>
<g filter="url(#lcd)"><text transform="translate(387.5 865.5) scale(0.955 1.08)" font-size="56">CON</text></g>
<g filter="url(#lcd)"><text transform="translate(504.8 883) scale(0.98 1.08)" font-size="40">KO</text></g>
<g filter="url(#lcd)"><text transform="translate(562.5 873.5) scale(0.94 1.08)" font-size="56">DIO</text></g>
<g filter="url(#lcd)"><text transform="translate(654.6 890.5) scale(0.98 1.08)" font-size="40">WT</text></g>
<g filter="url(#lcd)"><text transform="translate(737.5 873.5) scale(0.94 1.08)" font-size="56">DIO</text></g>
<g filter="url(#lcd)"><text transform="translate(829.6 890.5) scale(0.98 1.08)" font-size="40">KO</text></g>
<g filter="url(#lcd)"><text transform="translate(947 170.5) scale(0.955 1.08)" font-size="56" text-anchor="end">20</text></g>
<g filter="url(#lcd)"><text transform="translate(947 310.2) scale(0.955 1.08)" font-size="56" text-anchor="end">16</text></g>
<g filter="url(#lcd)"><text transform="translate(947 450.2) scale(0.955 1.08)" font-size="56" text-anchor="end">12</text></g>
<g filter="url(#lcd)"><text transform="translate(947 585.2) scale(0.955 1.08)" font-size="56" text-anchor="end">8</text></g>
<g filter="url(#lcd)"><text transform="translate(947 725.2) scale(0.955 1.08)" font-size="56" text-anchor="end">4</text></g>
<g filter="url(#lcd)"><text transform="translate(947 860.2) scale(0.955 1.08)" font-size="56" text-anchor="end">0</text></g>
<g filter="url(#lcd)"><text transform="translate(1108.5 217.5) scale(1 1.03)" font-size="46">p=0.06</text></g>
<g filter="url(#lcd)"><text transform="translate(1416.5 251.5) scale(1 1)" font-size="71" text-anchor="middle">*</text></g>
<g filter="url(#lcd)"><text transform="translate(1009.5 216.5) scale(0.93 1)" font-size="83">B</text></g>
<g filter="url(#lcd)"><text transform="translate(1085 898.5) scale(0.955 1.08)" font-size="56">CON</text></g>
<g filter="url(#lcd)"><text transform="translate(1259 898.5) scale(0.94 1.08)" font-size="56">DIO</text></g>
<g filter="url(#lcd)"><text transform="translate(1419 898.5) scale(0.94 1.08)" font-size="56">DIO</text></g>
<g filter="url(#lcd)"><text transform="translate(1513.6 915) scale(0.98 1.08)" font-size="40">APO</text></g>
<g filter="url(#lcd)"><text transform="translate(1718 170.5) scale(0.955 1.08)" font-size="56" text-anchor="end">20</text></g>
<g filter="url(#lcd)"><text transform="translate(1718 310.2) scale(0.955 1.08)" font-size="56" text-anchor="end">16</text></g>
<g filter="url(#lcd)"><text transform="translate(1718 450.2) scale(0.955 1.08)" font-size="56" text-anchor="end">12</text></g>
<g filter="url(#lcd)"><text transform="translate(1718 585.2) scale(0.955 1.08)" font-size="56" text-anchor="end">8</text></g>
<g filter="url(#lcd)"><text transform="translate(1718 725.2) scale(0.955 1.08)" font-size="56" text-anchor="end">4</text></g>
<g filter="url(#lcd)"><text transform="translate(1718 860.2) scale(0.955 1.08)" font-size="56" text-anchor="end">0</text></g>
<g filter="url(#lcd)"><text transform="translate(1976 225) scale(1 1)" font-size="71" text-anchor="middle">*</text></g>
<g filter="url(#lcd)"><text transform="translate(2184.5 207.5) scale(0.93 1.1)" font-size="56" text-anchor="middle">#</text></g>
<g filter="url(#lcd)"><text transform="translate(1770.5 228) scale(0.97 1)" font-size="83">C</text></g>
<g filter="url(#lcd)"><text transform="translate(1856 910) scale(0.955 1.08)" font-size="56">CON</text></g>
<g filter="url(#lcd)"><text transform="translate(2020 910) scale(0.94 1.08)" font-size="56">DIO</text></g>
<g filter="url(#lcd)"><text transform="translate(2181 910) scale(0.94 1.08)" font-size="56">DIO</text></g>
<g filter="url(#lcd)"><text transform="translate(2275.6 927.5) scale(0.98 1.08)" font-size="40">APO</text></g>
<g filter="url(#lcd)"><text transform="translate(179.5 1166) scale(0.955 1.08)" font-size="56" text-anchor="end">24</text></g>
<g filter="url(#lcd)"><text transform="translate(179.5 1283.8) scale(0.955 1.08)" font-size="56" text-anchor="end">20</text></g>
<g filter="url(#lcd)"><text transform="translate(179.5 1398.8) scale(0.955 1.08)" font-size="56" text-anchor="end">16</text></g>
<g filter="url(#lcd)"><text transform="translate(179.5 1512.8) scale(0.955 1.08)" font-size="56" text-anchor="end">12</text></g>
<g filter="url(#lcd)"><text transform="translate(179.5 1627.2) scale(0.955 1.08)" font-size="56" text-anchor="end">8</text></g>
<g filter="url(#lcd)"><text transform="translate(179.5 1741.8) scale(0.955 1.08)" font-size="56" text-anchor="end">4</text></g>
<g filter="url(#lcd)"><text transform="translate(179.5 1855.2) scale(0.955 1.08)" font-size="56" text-anchor="end">0</text></g>
<g filter="url(#lcd)"><text transform="translate(702.5 1280) scale(0.93 1.1)" font-size="56" text-anchor="middle">#</text></g>
<g filter="url(#lcd)"><text transform="translate(235.5 1216.5) scale(0.97 1)" font-size="83">D</text></g>
<g filter="url(#lcd)"><text transform="translate(205 1895) scale(0.955 1.08)" font-size="56">CON</text></g>
<g filter="url(#lcd)"><text transform="translate(322.3 1911) scale(0.98 1.08)" font-size="40">WT</text></g>
<g filter="url(#lcd)"><text transform="translate(391.5 1894) scale(0.955 1.08)" font-size="56">CON</text></g>
<g filter="url(#lcd)"><text transform="translate(508.8 1910) scale(0.98 1.08)" font-size="40">KO</text></g>
<g filter="url(#lcd)"><text transform="translate(569 1898.5) scale(0.94 1.08)" font-size="56">DIO</text></g>
<g filter="url(#lcd)"><text transform="translate(661.1 1915) scale(0.98 1.08)" font-size="40">WT</text></g>
<g filter="url(#lcd)"><text transform="translate(747.5 1898.5) scale(0.94 1.08)" font-size="56">DIO</text></g>
<g filter="url(#lcd)"><text transform="translate(839.6 1915) scale(0.98 1.08)" font-size="40">KO</text></g>
<g filter="url(#lcd)"><text transform="translate(947 1148.5) scale(0.955 1.08)" font-size="56" text-anchor="end">24</text></g>
<g filter="url(#lcd)"><text transform="translate(947 1263.5) scale(0.955 1.08)" font-size="56" text-anchor="end">20</text></g>
<g filter="url(#lcd)"><text transform="translate(947 1377) scale(0.955 1.08)" font-size="56" text-anchor="end">16</text></g>
<g filter="url(#lcd)"><text transform="translate(947 1491.8) scale(0.955 1.08)" font-size="56" text-anchor="end">12</text></g>
<g filter="url(#lcd)"><text transform="translate(947 1610) scale(0.955 1.08)" font-size="56" text-anchor="end">8</text></g>
<g filter="url(#lcd)"><text transform="translate(947 1723.5) scale(0.955 1.08)" font-size="56" text-anchor="end">4</text></g>
<g filter="url(#lcd)"><text transform="translate(947 1839) scale(0.955 1.08)" font-size="56" text-anchor="end">0</text></g>
<g filter="url(#lcd)"><text transform="translate(1184 1236.5) scale(1 1)" font-size="71" text-anchor="middle">*</text></g>
<g filter="url(#lcd)"><text transform="translate(1405 1212.5) scale(0.93 1.1)" font-size="56" text-anchor="middle">#</text></g>
<g filter="url(#lcd)"><text transform="translate(1001.5 1203) scale(1 1)" font-size="83">E</text></g>
<g filter="url(#lcd)"><text transform="translate(1076.5 1881) scale(0.955 1.08)" font-size="56">CON</text></g>
<g filter="url(#lcd)"><text transform="translate(1259 1881) scale(0.94 1.08)" font-size="56">DIO</text></g>
<g filter="url(#lcd)"><text transform="translate(1402.5 1881) scale(0.94 1.08)" font-size="56">DIO</text></g>
<g filter="url(#lcd)"><text transform="translate(1497.1 1897.5) scale(0.98 1.08)" font-size="40">APO</text></g>
<g filter="url(#lcd)"><text transform="translate(1718 1148.5) scale(0.955 1.08)" font-size="56" text-anchor="end">24</text></g>
<g filter="url(#lcd)"><text transform="translate(1718 1263.5) scale(0.955 1.08)" font-size="56" text-anchor="end">20</text></g>
<g filter="url(#lcd)"><text transform="translate(1718 1377) scale(0.955 1.08)" font-size="56" text-anchor="end">16</text></g>
<g filter="url(#lcd)"><text transform="translate(1718 1491.8) scale(0.955 1.08)" font-size="56" text-anchor="end">12</text></g>
<g filter="url(#lcd)"><text transform="translate(1718 1610) scale(0.955 1.08)" font-size="56" text-anchor="end">8</text></g>
<g filter="url(#lcd)"><text transform="translate(1718 1723.5) scale(0.955 1.08)" font-size="56" text-anchor="end">4</text></g>
<g filter="url(#lcd)"><text transform="translate(1718 1839) scale(0.955 1.08)" font-size="56" text-anchor="end">0</text></g>
<g filter="url(#lcd)"><text transform="translate(1771.5 1203) scale(1 1)" font-size="83">F</text></g>
<g filter="url(#lcd)"><text transform="translate(1865 1886) scale(0.955 1.08)" font-size="56">CON</text></g>
<g filter="url(#lcd)"><text transform="translate(2029 1886) scale(0.94 1.08)" font-size="56">DIO</text></g>
<g filter="url(#lcd)"><text transform="translate(2190 1886) scale(0.94 1.08)" font-size="56">DIO</text></g>
<g filter="url(#lcd)"><text transform="translate(2284.6 1902.5) scale(0.98 1.08)" font-size="40">APO</text></g>
<g filter="url(#lcd)"><text transform="translate(179.5 2101.5) scale(0.955 1.08)" font-size="56" text-anchor="end">3</text></g>
<g filter="url(#lcd)"><text transform="translate(179.5 2334.5) scale(0.955 1.08)" font-size="56" text-anchor="end">2</text></g>
<g filter="url(#lcd)"><text transform="translate(179.5 2563) scale(0.955 1.08)" font-size="56" text-anchor="end">1</text></g>
<g filter="url(#lcd)"><text transform="translate(179.5 2791) scale(0.955 1.08)" font-size="56" text-anchor="end">0</text></g>
<g filter="url(#lcd)"><text transform="translate(234.5 2159.5) scale(0.97 1)" font-size="83">G</text></g>
<g filter="url(#lcd)"><text transform="translate(205 2829.5) scale(0.955 1.08)" font-size="56">CON</text></g>
<g filter="url(#lcd)"><text transform="translate(322.3 2846) scale(0.98 1.08)" font-size="40">WT</text></g>
<g filter="url(#lcd)"><text transform="translate(395.5 2826) scale(0.955 1.08)" font-size="56">CON</text></g>
<g filter="url(#lcd)"><text transform="translate(512.8 2842) scale(0.98 1.08)" font-size="40">KO</text></g>
<g filter="url(#lcd)"><text transform="translate(569 2834.5) scale(0.94 1.08)" font-size="56">DIO</text></g>
<g filter="url(#lcd)"><text transform="translate(661.1 2851) scale(0.98 1.08)" font-size="40">WT</text></g>
<g filter="url(#lcd)"><text transform="translate(747.5 2834.5) scale(0.94 1.08)" font-size="56">DIO</text></g>
<g filter="url(#lcd)"><text transform="translate(839.6 2851) scale(0.98 1.08)" font-size="40">KO</text></g>
<g filter="url(#lcd)"><text transform="translate(947 2122.2) scale(0.955 1.08)" font-size="56" text-anchor="end">3</text></g>
<g filter="url(#lcd)"><text transform="translate(947 2355.5) scale(0.955 1.08)" font-size="56" text-anchor="end">2</text></g>
<g filter="url(#lcd)"><text transform="translate(947 2584.2) scale(0.955 1.08)" font-size="56" text-anchor="end">1</text></g>
<g filter="url(#lcd)"><text transform="translate(947 2812.8) scale(0.955 1.08)" font-size="56" text-anchor="end">0</text></g>
<g filter="url(#lcd)"><text transform="translate(1005.5 2186) scale(0.92 1)" font-size="83">H</text></g>
<g filter="url(#lcd)"><text transform="translate(1090 2859.5) scale(0.955 1.08)" font-size="56">CON</text></g>
<g filter="url(#lcd)"><text transform="translate(1256.5 2859.5) scale(0.94 1.08)" font-size="56">DIO</text></g>
<g filter="url(#lcd)"><text transform="translate(1416.5 2859.5) scale(0.94 1.08)" font-size="56">DIO</text></g>
<g filter="url(#lcd)"><text transform="translate(1511.1 2876) scale(0.98 1.08)" font-size="40">APO</text></g>
<g filter="url(#lcd)"><text transform="translate(1718 2122.2) scale(0.955 1.08)" font-size="56" text-anchor="end">3</text></g>
<g filter="url(#lcd)"><text transform="translate(1718 2355.5) scale(0.955 1.08)" font-size="56" text-anchor="end">2</text></g>
<g filter="url(#lcd)"><text transform="translate(1718 2584.2) scale(0.955 1.08)" font-size="56" text-anchor="end">1</text></g>
<g filter="url(#lcd)"><text transform="translate(1718 2812.8) scale(0.955 1.08)" font-size="56" text-anchor="end">0</text></g>
<g filter="url(#lcd)"><text transform="translate(1772.5 2181) scale(1 1)" font-size="83">I</text></g>
<g filter="url(#lcd)"><text transform="translate(1865 2854.5) scale(0.955 1.08)" font-size="56">CON</text></g>
<g filter="url(#lcd)"><text transform="translate(2025 2854.5) scale(0.94 1.08)" font-size="56">DIO</text></g>
<g filter="url(#lcd)"><text transform="translate(2228.5 2854.5) scale(0.94 1.08)" font-size="56">DIO</text></g>
<g filter="url(#lcd)"><text transform="translate(2323.1 2871) scale(0.98 1.08)" font-size="40">APO</text></g>
<g filter="url(#lcd)"><text transform="translate(526 91) scale(1 1.06)" font-size="56" text-anchor="middle">28 wk</text></g>
<g filter="url(#lcd)"><text transform="translate(1288 95) scale(1 1.06)" font-size="56" text-anchor="middle">18 wk</text></g>
<g filter="url(#lcd)"><text transform="translate(2038.5 95) scale(1 1.06)" font-size="56" text-anchor="middle">28 wk</text></g>
<g filter="url(#lcdr)"><text transform="translate(94 476) rotate(-90) scale(0.985 1.1)" font-size="56" text-anchor="middle">Mechanical efficiency (%)</text></g>
<g filter="url(#lcdr)"><text transform="translate(77.5 1493) rotate(-90) scale(0.985 1.1)" font-size="56" text-anchor="middle">MVO<tspan font-size="38" dy="10">2</tspan><tspan dy="-10"> (mJ/beat/g)</tspan></text></g>
<g filter="url(#lcdr)"><text transform="translate(106 2428) rotate(-90) scale(0.985 1.1)" font-size="56" text-anchor="middle">SW (mJ/beat/g)</text></g>
</g>
</svg>
</body>
</html>
